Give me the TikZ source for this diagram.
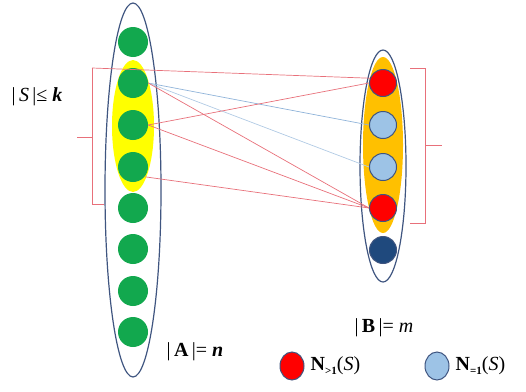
\documentclass[tikz,border=0pt]{standalone}
\usepackage{fontspec}
\setmainfont{Liberation Serif}
\usepackage{tikz}
\usepackage{xcolor}
\usetikzlibrary{positioning,shapes.geometric}
\definecolor{setline}{HTML}{3F5580}
\definecolor{agreen}{HTML}{12A84E}
\definecolor{syellow}{HTML}{FFFF00}
\definecolor{norange}{HTML}{FFC000}
\definecolor{nred}{HTML}{FF0000}
\definecolor{nblue}{HTML}{9DC3E6}
\definecolor{bnavy}{HTML}{1F497D}
\definecolor{redge}{HTML}{E8707A}
\definecolor{bedge}{HTML}{8FB3D9}

\begin{document}
\begin{tikzpicture}[x=1pt,y=-1pt,
  vtxA/.style={circle,fill=agreen,minimum size=30,inner sep=0},
  vtxB/.style={circle,draw=setline,line width=1pt,minimum size=27,inner sep=0},
  redline/.style={draw=redge,line width=0.7pt},
  blueline/.style={draw=bedge,line width=0.7pt},
  lbl/.style={font=\fontsize{20}{24}\selectfont,inner sep=0}]
  \useasboundingbox (0,0) rectangle (526,391);

  % the two sides
  \node[draw=setline,line width=1.2pt,ellipse,minimum width=56,minimum height=374,
        inner sep=0] (setA) at (133,190) {};
  \node[fill=syellow,ellipse,minimum width=42,minimum height=132,inner sep=0]
    (setS) at (133,126) {};
  \node[draw=setline,line width=1.2pt,ellipse,minimum width=46,minimum height=232,
        inner sep=0] (setB) at (383,166) {};
  \node[fill=norange,ellipse,minimum width=40,minimum height=176,inner sep=0]
    (setN) at (383,145) {};

  % vertices of A
  \node[vtxA] (a1) at (133,42) {};
  \node[vtxA] (a2) at (133,83) {};
  \node[vtxA] (a3) at (133,125) {};
  \node[vtxA] (a4) at (133,167) {};
  \node[vtxA] (a5) at (133,208) {};
  \node[vtxA] (a6) at (133,249) {};
  \node[vtxA] (a7) at (133,291) {};
  \node[vtxA] (a8) at (133,332) {};

  % vertices of B
  \node[vtxB,fill=nred] (b1) at (383,83) {};
  \node[vtxB,fill=nblue] (b2) at (383,125) {};
  \node[vtxB,fill=nblue] (b3) at (383,167) {};
  \node[vtxB,fill=nred] (b4) at (383,208) {};
  \node[vtxB,fill=bnavy] (b5) at (383,250) {};

  % braces
  \coordinate (sTop) at (92,68);
  \coordinate (sBot) at (92,204);
  \coordinate (sBotEnd) at (104,204);
  \coordinate (sMid) at (92,137);
  \coordinate (sTip) at (77,137);
  \draw[redline] (sTop) -- (sBot) -- (sBotEnd);
  \draw[redline] (sMid) -- (sTip);
  \draw[redline] (sTop) -- (b1.160);

  \coordinate (nTop) at (425,68);
  \coordinate (nTopEnd) at (410,68);
  \coordinate (nBot) at (425,223);
  \coordinate (nBotEnd) at (410,223);
  \coordinate (nMid) at (425,145);
  \coordinate (nTip) at (442,145);
  \draw[redline] (nTopEnd) -- (nTop) -- (nBot) -- (nBotEnd);
  \draw[redline] (nMid) -- (nTip);

  % edges
  \draw[blueline] (a2.east) -- (b2.west);
  \draw[blueline,draw=bedge!70] (a2.east) -- (b3.west);
  \draw[redline] (a2.east) -- (b4.west);
  \draw[redline] (a3.east) -- (b1.west);
  \draw[redline] (a3.east) -- (b4.west);
  \draw[redline] (a4.-40) -- (b4.west);

  % labels
  \node[lbl] (sizeS) at (37,97) {|\,\textit{S}\,|≤ \textbf{\textit{k}}};
  \node[lbl] (sizeA) at (195,352) {|\,\textbf{A}\,|= \textbf{\textit{n}}};
  \node[lbl] (sizeB) at (384,328) {|\,\textbf{B}\,|= \textit{m}};

  % legend
  \node[ellipse,draw=setline,line width=1pt,fill=nred,minimum width=24,
        minimum height=28,inner sep=0] (legR) at (292,366) {};
  \node[lbl,right=6pt of legR] (legRtxt)
    {\textbf{N}\raisebox{-0.4ex}{\fontsize{11}{12}\selectfont\textbf{>1}}(\textit{S})};
  \node[ellipse,draw=setline,line width=1pt,fill=nblue,minimum width=24,
        minimum height=28,inner sep=0] (legB) at (437,366) {};
  \node[lbl,right=6pt of legB] (legBtxt)
    {\textbf{N}\raisebox{-0.4ex}{\fontsize{11}{12}\selectfont\textbf{=1}}(\textit{S})};
\end{tikzpicture}
\end{document}
